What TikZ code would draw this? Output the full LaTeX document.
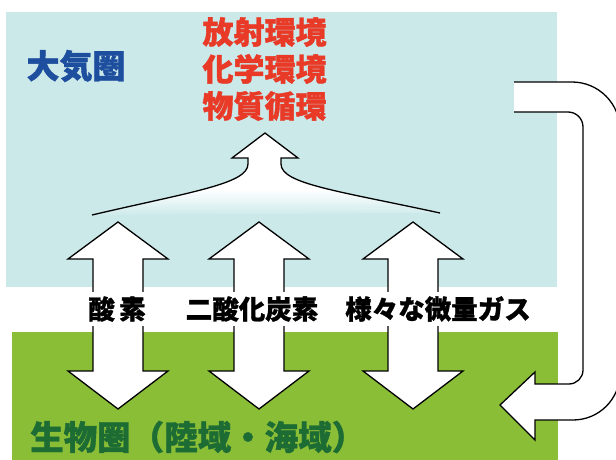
\documentclass[tikz,border=0pt]{standalone}
\usepackage{fontspec}
\newfontfamily\jp[FakeBold=1.2]{Noto Sans CJK JP}
\definecolor{skyb}{RGB}{204,233,234}
\definecolor{grassg}{RGB}{138,190,55}
\definecolor{redt}{RGB}{232,58,38}
\definecolor{bluet}{RGB}{30,78,158}
\definecolor{greent}{RGB}{28,108,52}
\tikzset{
  outl/.style={draw=black, line width=1.3pt, line join=miter},
  gaslabel/.style={font=\jp\bfseries\fontsize{26.5}{26.5}\selectfont, fill=white, inner xsep=1pt, minimum height=34pt, text=black},
}
\begin{document}
\begin{tikzpicture}[x=1pt,y=-1pt]
\useasboundingbox (0,0) rectangle (616,460);
\fill[white] (0,0) rectangle (616,460);
% spheres
\fill[skyb] (6,12) rectangle (557,287);
\fill[grassg] (12,332) rectangle (558,460);
% titles
\node[font=\jp\bfseries\fontsize{33}{33}\selectfont, text=bluet] (atm) at (76,66) {大気圏};
\node[font=\jp\bfseries\fontsize{31}{37}\selectfont, text=redt, align=center] (env) at (264.5,69) {放射環境\\化学環境\\物質循環};
\node[font=\jp\bfseries\fontsize{33.5}{33.5}\selectfont, text=greent, anchor=west, inner sep=0pt] (bio) at (30,437) {生物圏（陸域・海域）};
% merging upward arrow
\begin{scope}
\clip (92,215) .. controls (190,192) and (248,184) .. (248,164) -- (248,158) -- (232,158) -- (265,133)
  -- (298,158) -- (281,158) -- (281,164) .. controls (281,184) and (339,191) .. (440,213) -- cycle;
\fill[white] (80,120) rectangle (450,190);
\shade[top color=white, bottom color=skyb] (80,189.5) rectangle (450,216);
\end{scope}
\draw[outl]
  (92,215) .. controls (190,192) and (248,184) .. (248,164) -- (248,158) -- (232,158) -- (265,133)
  -- (298,158) -- (281,158) -- (281,164) .. controls (281,184) and (339,191) .. (440,213);
% double arrows
\foreach \c in {118,259,413}{
  \filldraw[fill=white, outl] (\c-25,259) -- (\c-50,259) -- (\c,222) -- (\c+50,259) -- (\c+25,259)
    -- (\c+25,371) -- (\c+50,371) -- (\c,409) -- (\c-50,371) -- (\c-25,371) -- cycle;
}
\node[gaslabel] (o2) at (117,309) {酸\,素};
\node[gaslabel] (co2) at (252,309) {二酸化炭素};
\node[gaslabel] (gas) at (438,309) {様々な微量ガス};
% return arrow on the right
\fill[white] (514,112) -- (568,112) .. controls (576.3,112) and (583,118.7) .. (583,127)
  -- (583,370) .. controls (583,377.7) and (576.7,384) .. (569,384) -- (535,384) -- (535,372)
  -- (500,405) -- (535,440) -- (535,420) -- (573,420) .. controls (599,420) and (620,399) .. (620,373)
  -- (620,130) .. controls (620,103.5) and (598.5,82) .. (572,82) -- (514,82) -- cycle;
\draw[outl] (514,112) -- (568,112) .. controls (576.3,112) and (583,118.7) .. (583,127)
  -- (583,370) .. controls (583,377.7) and (576.7,384) .. (569,384) -- (535,384) -- (535,372)
  -- (500,405) -- (535,440) -- (535,420) -- (573,420) .. controls (599,420) and (620,399) .. (620,373)
  -- (620,130) .. controls (620,103.5) and (598.5,82) .. (572,82) -- (514,82);
\end{tikzpicture}
\end{document}
